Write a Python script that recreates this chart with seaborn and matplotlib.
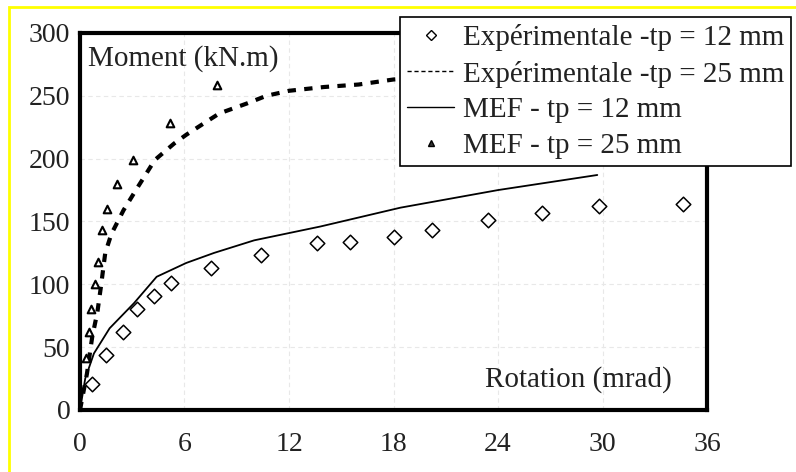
import numpy as np
import pandas as pd
import matplotlib.pyplot as plt
from matplotlib.lines import Line2D
from matplotlib.patches import Rectangle
import seaborn as sns

sns.set_theme(style="white")
plt.rcParams['font.family'] = ['Liberation Serif', 'DejaVu Serif']

# values (rotation in mrad, moment in kN.m)
exp12_rot = [0.7, 1.5, 2.45, 3.25, 4.25, 5.2, 7.5, 10.4, 13.6, 15.5, 18.0, 20.2, 23.4, 26.5, 29.8, 34.6]
exp12_mom = [21, 44, 62, 80, 91, 101, 113, 123, 133, 134, 138, 143, 151, 157, 162, 164]

exp25_rot = [0, 0.4, 0.7, 1.0, 1.2, 1.45, 1.8, 2.5, 3.3, 4.3, 5.4, 6.1, 7.1, 8.0, 9.6, 10.7, 12.0, 14.0, 16.0, 18.0, 20.0, 24.0]
exp25_mom = [0, 29, 58, 78, 98, 125, 140, 159, 177, 199, 212, 219, 228, 236, 244, 250, 254, 257, 259, 263, 265, 268]

mef12_rot = [0, 0.3, 0.8, 1.7, 3.1, 4.4, 6.1, 7.7, 10.0, 13.8, 18.4, 24.0, 29.7]
mef12_mom = [0, 25, 45, 65, 85, 106, 117, 125, 135, 146, 161, 175, 187]

mef25_rot = [0.35, 0.5, 0.65, 0.85, 1.05, 1.25, 1.55, 2.1, 3.05, 5.15, 7.85]
mef25_mom = [41, 62, 80, 100, 118, 143, 160, 180, 199, 228, 259]

labels = ["Expérimentale -tp = 12 mm", "Expérimentale -tp = 25 mm",
          "MEF - tp = 12 mm", "MEF - tp = 25 mm"]
x_ticks = [0, 6, 12, 18, 24, 30, 36]
y_ticks = [0, 50, 100, 150, 200, 250, 300]

fig = plt.figure(figsize=(7.96, 4.72), dpi=100)
ax = fig.add_axes([0.1005, 0.1314, 0.7877, 0.7987])

# faint dashed grid
ax.grid(True, ls=(0, (4, 3)), color='#e8e8e8', lw=0.8)

sns.lineplot(x=mef12_rot, y=mef12_mom, ax=ax, color='black', lw=1.3,
             sort=False, estimator=None)
sns.lineplot(x=exp25_rot, y=exp25_mom, ax=ax, color='black', lw=3,
             linestyle=(0, (2, 2)), sort=False, estimator=None)
sns.scatterplot(x=exp12_rot, y=exp12_mom, ax=ax, marker='D', s=55,
                facecolor='white', edgecolor='black', linewidth=1.1, zorder=4)
sns.scatterplot(x=mef25_rot, y=mef25_mom, ax=ax, marker='^', s=30,
                facecolor='white', edgecolor='black', linewidth=1.5, zorder=4)

ax.set_xlim(0, 36)
ax.set_ylim(0, 300)
ax.set_xticks(x_ticks)
ax.set_yticks(y_ticks)
ax.tick_params(axis='both', length=0, labelsize=20, colors='#222222')
ax.tick_params(axis='x', pad=16)
ax.tick_params(axis='y', pad=7)
for sp in ax.spines.values():
    sp.set_color('black')
    sp.set_linewidth(3)

ax.text(0.013, 0.968, "Moment (kN.m)", transform=ax.transAxes,
        ha='left', va='top', fontsize=21, color='#222222')
ax.text(0.944, 0.045, "Rotation (mrad)", transform=ax.transAxes,
        ha='right', va='bottom', fontsize=21, color='#222222')

handles = [
    Line2D([], [], marker='D', ls='none', mfc='white', mec='black', ms=5, mew=1),
    Line2D([], [], ls=(0, (3, 2)), color='black', lw=1),
    Line2D([], [], color='black', lw=1),
    Line2D([], [], marker='^', ls='none', mfc='#333333', mec='black', ms=5),
]
leg = ax.legend(handles, labels, loc='upper left',
                bbox_to_anchor=(400 / 796, 1 - 17 / 472),
                bbox_transform=fig.transFigure, frameon=True, fancybox=False,
                edgecolor='black', framealpha=1, fontsize=21,
                handlelength=1.6, handletextpad=0.3, borderpad=0.25,
                labelspacing=0.32, borderaxespad=0)
leg.get_frame().set_linewidth(1.2)
for t in leg.get_texts():
    t.set_color('#222222')

# yellow frame on the left and top of the image
fig.add_artist(Rectangle((9 / 796, -0.1), 1.1, 1.1 - 7 / 472,
                         transform=fig.transFigure, fill=False,
                         edgecolor='#ffff00', lw=2))

fig.savefig("out.png", dpi=100)
